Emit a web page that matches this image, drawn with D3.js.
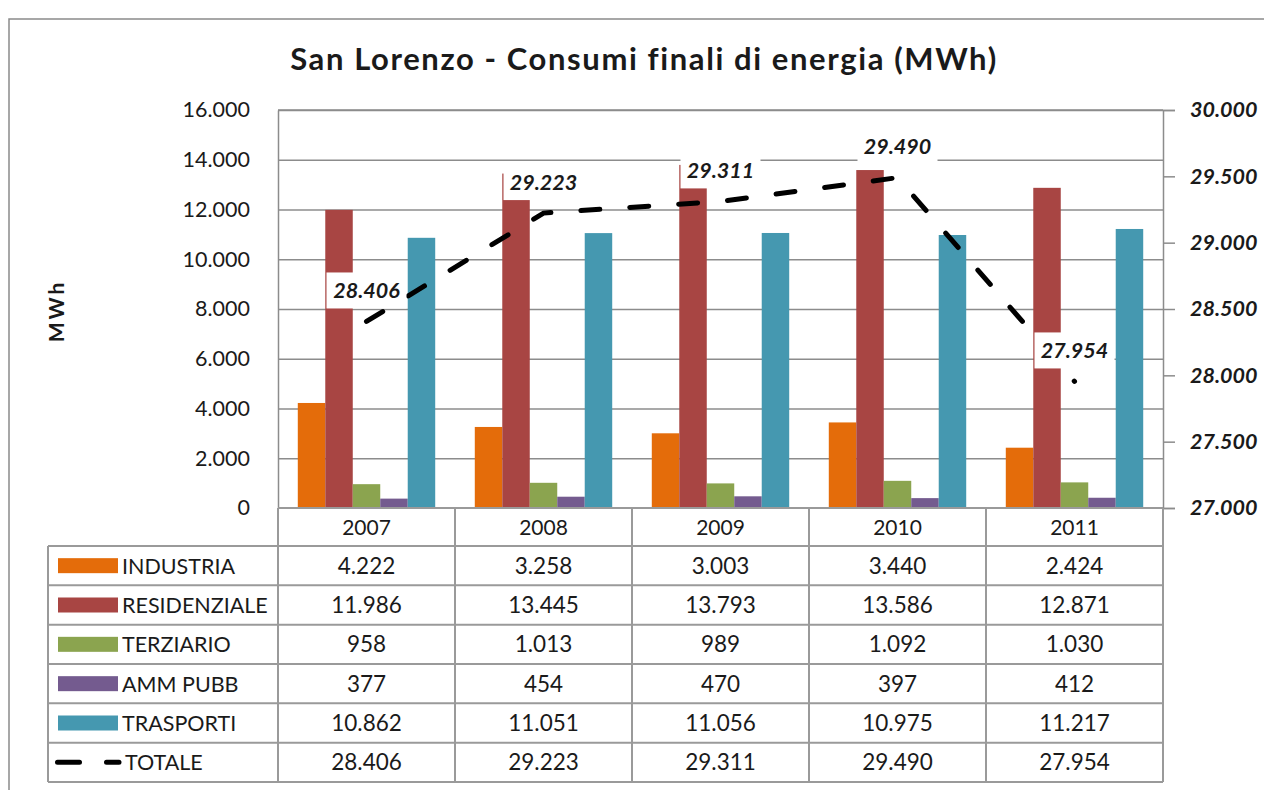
<!DOCTYPE html>
<html>
<head>
    <meta charset="utf-8">
    <title>San Lorenzo - Consumi finali di energia</title>
    <script src="https://d3js.org/d3.v7.min.js"></script>
    <style>
        body { margin: 0; padding: 0; background: #fff; }
        text { font-family: Lato, "Noto Sans", sans-serif; fill: #1a1a1a; }
    </style>
</head>
<body>
    <svg id="svg" width="1264" height="790"></svg>

    <script>
        // Data.
        const years = ["2007", "2008", "2009", "2010", "2011"];
        const series = ["INDUSTRIA", "RESIDENZIALE", "TERZIARIO", "AMM PUBB", "TRASPORTI"];
        const colors = ["#E46C0A", "#A84543", "#8BA44F", "#745B8F", "#4598B0"];
        const industria = [4222, 3258, 3003, 3440, 2424];
        const residenziale = [11986, 13445, 13793, 13586, 12871];
        const terziario = [958, 1013, 989, 1092, 1030];
        const ammPubb = [377, 454, 470, 397, 412];
        const trasporti = [10862, 11051, 11056, 10975, 11217];
        const totale = [28406, 29223, 29311, 29490, 27954];
        const leftTicks = [0, 2000, 4000, 6000, 8000, 10000, 12000, 14000, 16000];
        const rightTicks = [27000, 27500, 28000, 28500, 29000, 29500, 30000];

        const values = [industria, residenziale, terziario, ammPubb, trasporti];

        const it = d3.formatLocale({ decimal: ",", thousands: ".", grouping: [3], currency: ["", ""] });
        const fmt = it.format(",d");

        const svg = d3.select("svg");
        const plot = { left: 278, right: 1163, top: 110, bottom: 508 };
        const gridColor = "#8c8c8c";

        // Outer chart border (cut by the window on the right and bottom).
        svg.append("path")
            .attr("d", "M9,790 V19 H1264")
            .attr("fill", "none")
            .attr("stroke", "#8a8a8a")
            .attr("stroke-width", 1.5);

        // Title
        svg.append("text")
            .attr("x", 644).attr("y", 70)
            .attr("text-anchor", "middle")
            .attr("font-size", 31).attr("font-weight", "bold")
            .attr("letter-spacing", 1.6)
            .text("San Lorenzo - Consumi finali di energia (MWh)");

        // Scales
        const x = d3.scaleBand().domain(years).range([plot.left, plot.right]);
        const xs = d3.scaleBand().domain(series).range([0, x.bandwidth()]).paddingOuter(0.72);
        const yL = d3.scaleLinear().domain([0, 16000]).range([plot.bottom, plot.top]);
        const yR = d3.scaleLinear().domain([27000, 30000]).range([plot.bottom, plot.top]);

        // Gridlines
        svg.append("g")
            .attr("transform", `translate(${plot.left},0)`)
            .call(d3.axisLeft(yL).tickValues(leftTicks.slice(1)).tickSize(-(plot.right - plot.left)).tickFormat(""))
            .call(g => g.select(".domain").remove())
            .selectAll("line").attr("stroke", gridColor).attr("stroke-width", 1.3);

        // Left axis labels
        svg.append("g")
            .attr("transform", `translate(${plot.left},0)`)
            .call(d3.axisLeft(yL).tickValues(leftTicks).tickSize(0).tickPadding(28).tickFormat(fmt))
            .call(g => g.select(".domain").attr("stroke", gridColor).attr("stroke-width", 1.5))
            .selectAll("text")
                .attr("font-size", 21.5)
                .attr("fill", "#1a1a1a")
                .attr("font-family", "Lato, sans-serif");

        // Right axis
        svg.append("g")
            .attr("transform", `translate(${plot.right},0)`)
            .call(d3.axisRight(yR).tickValues(rightTicks).tickSize(12).tickPadding(15).tickFormat(fmt))
            .call(g => g.selectAll("line, .domain").attr("stroke", gridColor).attr("stroke-width", 1.5))
            .selectAll("text")
                .attr("font-size", 21.5)
                .attr("font-weight", "bold")
                .attr("font-style", "italic")
                .attr("fill", "#1a1a1a")
                .attr("font-family", "Lato, sans-serif");

        // Y axis title
        svg.append("text")
            .attr("transform", "translate(64,311) rotate(-90)")
            .attr("text-anchor", "middle")
            .attr("font-size", 21).attr("font-weight", "bold")
            .attr("letter-spacing", 3)
            .text("MWh");

        // Bars
        const groups = svg.append("g").selectAll("g")
            .data(years)
            .join("g")
            .attr("transform", d => `translate(${x(d)},0)`);

        groups.selectAll("rect")
            .data((yr, i) => series.map((s, j) => ({ s, j, v: values[j][i] })))
            .join("rect")
            .attr("x", d => xs(d.s))
            .attr("width", xs.bandwidth())
            .attr("y", d => yL(d.v))
            .attr("height", d => yL(0) - yL(d.v))
            .attr("fill", d => colors[d.j]);

        // Top plot border
        svg.append("line")
            .attr("x1", plot.left).attr("x2", plot.right)
            .attr("y1", plot.top).attr("y2", plot.top)
            .attr("stroke", gridColor).attr("stroke-width", 1.3);

        // Total line
        const cx = d => x(d) + x.bandwidth() / 2;
        svg.append("path")
            .datum(totale)
            .attr("d", d3.line().x((d, i) => cx(years[i])).y(d => yR(d)))
            .attr("fill", "none")
            .attr("stroke", "#000")
            .attr("stroke-width", 5)
            .attr("stroke-linecap", "round")
            .attr("stroke-dasharray", "19,30");

        // Data labels with white boxes
        const lab = svg.append("g").selectAll("g")
            .data(totale)
            .join("g")
            .attr("transform", (d, i) => `translate(${cx(years[i])},${yR(d) - 31})`);
        lab.append("rect")
            .attr("x", -40).attr("y", -18)
            .attr("width", 80).attr("height", 36)
            .attr("fill", "#fff");
        lab.append("text")
            .attr("y", 7.5)
            .attr("text-anchor", "middle")
            .attr("font-size", 21.5).attr("font-weight", "bold").attr("font-style", "italic")
            .text(d => fmt(d));

        // Data table
        const rowNames = series.concat(["TOTALE"]);
        const rowVals = values.concat([totale]);
        const rows = d3.scaleBand().domain(rowNames).range([546, 782]);
        const tableColor = "#9a9a9a";
        const table = svg.append("g");

        // Year header
        table.selectAll(".yr")
            .data(years)
            .join("text")
            .attr("class", "yr")
            .attr("x", d => cx(d))
            .attr("y", 535)
            .attr("text-anchor", "middle")
            .attr("font-size", 21)
            .text(d => d);

        // Horizontal lines
        table.selectAll(".hl")
            .data(rowNames.map(r => rows(r)).concat([782]))
            .join("line")
            .attr("x1", 48).attr("x2", plot.right)
            .attr("y1", d => d).attr("y2", d => d)
            .attr("stroke", tableColor).attr("stroke-width", 2);
        table.append("line")
            .attr("x1", plot.left).attr("x2", plot.right)
            .attr("y1", plot.bottom).attr("y2", plot.bottom)
            .attr("stroke", tableColor).attr("stroke-width", 2);

        // Vertical lines
        table.selectAll(".vl")
            .data(years.map(y => x(y)).concat([plot.right]))
            .join("line")
            .attr("x1", d => d).attr("x2", d => d)
            .attr("y1", plot.bottom).attr("y2", 782)
            .attr("stroke", tableColor).attr("stroke-width", 2);
        table.append("line")
            .attr("x1", 48).attr("x2", 48)
            .attr("y1", 546).attr("y2", 782)
            .attr("stroke", tableColor).attr("stroke-width", 2);

        // Legend keys and names
        const rg = table.selectAll(".row")
            .data(rowNames)
            .join("g")
            .attr("transform", d => `translate(0,${rows(d) + rows.bandwidth() / 2})`);

        rg.filter((d, i) => i < series.length)
            .append("rect")
            .attr("x", 58).attr("y", -7.5)
            .attr("width", 60).attr("height", 15)
            .attr("fill", (d, i) => colors[i]);

        rg.filter(d => d === "TOTALE")
            .append("line")
            .attr("x1", 57.5).attr("x2", 119)
            .attr("stroke", "#000").attr("stroke-width", 5)
            .attr("stroke-linecap", "round")
            .attr("stroke-dasharray", "22,27");

        rg.append("text")
            .attr("x", d => d === "TOTALE" ? 125 : 122).attr("y", 8)
            .attr("font-size", 21.5)
            .text(d => d);

        rg.each(function (name, i) {
            d3.select(this).selectAll(".val")
                .data(rowVals[i])
                .join("text")
                .attr("class", "val")
                .attr("x", (v, k) => cx(years[k]))
                .attr("y", 8)
                .attr("text-anchor", "middle")
                .attr("font-size", 22.5)
                .text(v => fmt(v));
        });
    </script>
</body>
</html>
